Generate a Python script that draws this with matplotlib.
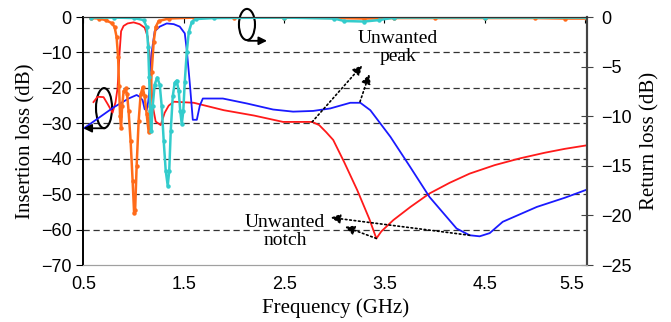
import matplotlib
matplotlib.use('Agg')
import matplotlib.pyplot as plt
import matplotlib.transforms as mtransforms
from matplotlib.patches import Ellipse

# insertion loss, filter 1 (red) and filter 2 (blue), left axis
freq_red = [0.6, 0.64, 0.7, 0.74, 0.79, 0.82, 0.84, 0.86, 0.875, 0.9, 0.94, 1.0, 1.06, 1.11,
            1.14, 1.16, 1.175, 1.19, 1.22, 1.27, 1.31, 1.35, 1.4, 1.6, 1.9, 2.2, 2.49, 2.78,
            2.85, 2.92, 2.99, 3.1, 3.23, 3.35, 3.42, 3.47, 3.59, 3.76, 3.95, 4.15, 4.35, 4.6,
            4.85, 5.1, 5.3, 5.52]
il_red = [-24.0, -22.5, -22.6, -24.5, -27.0, -24.0, -20.0, -10.0, -4.0, -2.5, -1.8, -1.5, -2.0, -3.0,
          -5.5, -11.0, -18.0, -25.0, -29.5, -30.5, -27.0, -25.0, -23.9, -24.2, -26.3, -27.8, -29.6, -29.6,
          -30.5, -32.5, -34.7, -41.0, -48.9, -57.0, -62.5, -60.5, -57.3, -53.6, -49.8, -46.8, -44.2, -41.8,
          -39.9, -38.3, -37.2, -36.2]

freq_blue = [0.5, 0.6, 0.8, 0.95, 1.03, 1.06, 1.09, 1.11, 1.13, 1.145, 1.16, 1.18, 1.21, 1.26, 1.33,
             1.4, 1.46, 1.51, 1.53, 1.56, 1.59, 1.63, 1.66, 1.69, 1.89, 2.13, 2.39, 2.59, 2.79, 2.96,
             3.16, 3.26, 3.36, 3.56, 3.75, 3.95, 4.22, 4.35, 4.45, 4.55, 4.68, 5.02, 5.3, 5.52]
il_blue = [-31.5, -29.5, -25.5, -23.0, -22.0, -22.5, -23.5, -26.0, -26.3, -24.0, -20.0, -10.0, -4.0, -2.7, -1.8,
           -2.0, -2.7, -4.6, -9.3, -18.7, -29.0, -29.0, -25.0, -23.0, -23.0, -24.4, -26.1, -26.7, -26.5, -25.8,
           -24.2, -24.2, -26.3, -33.8, -42.0, -50.8, -59.7, -61.6, -61.9, -61.0, -57.8, -53.6, -51.0, -48.7]

# return loss, filter 1 (orange) and filter 2 (cyan), right axis
freq_orange = [0.58, 0.65, 0.72, 0.78, 0.81, 0.83, 0.845, 0.855, 0.865, 0.875, 0.885, 0.9, 0.92, 0.935,
               0.95, 0.97, 0.99, 1.005, 1.015, 1.03, 1.05, 1.07, 1.09, 1.11, 1.13, 1.15, 1.165, 1.18,
               1.2, 1.22, 1.25, 1.35, 1.6, 2.0, 2.5, 3.0, 3.3, 3.6, 4.0, 4.5, 5.0, 5.3, 5.52]
rl_orange = [-0.1, -0.15, -0.3, -0.6, -1.0, -2.0, -4.0, -7.0, -10.0, -11.2, -9.0, -7.5, -7.2, -7.8,
             -9.5, -12.5, -16.5, -19.8, -19.5, -15.0, -10.5, -7.8, -7.1, -8.0, -9.8, -11.6, -9.0, -5.5,
             -2.5, -1.0, -0.4, -0.15, -0.05, -0.05, -0.05, -0.1, -0.15, -0.1, -0.1, -0.1, -0.1, -0.15, -0.15]

freq_cyan = [0.58, 0.8, 1.0, 1.1, 1.13, 1.145, 1.155, 1.165, 1.175, 1.19, 1.21, 1.235, 1.26, 1.28,
             1.3, 1.32, 1.34, 1.355, 1.37, 1.39, 1.41, 1.43, 1.45, 1.465, 1.48, 1.495, 1.51, 1.53,
             1.55, 1.58, 1.62, 1.8, 2.5, 3.0, 3.1, 3.3, 3.45, 3.6, 4.5, 5.52]
rl_cyan = [-0.05, -0.05, -0.1, -0.3, -1.0, -3.0, -6.0, -9.5, -11.5, -9.0, -6.8, -6.1, -6.8, -9.0,
           -12.5, -15.5, -17.0, -15.5, -11.5, -8.0, -6.6, -6.4, -7.5, -9.5, -10.8, -9.5, -6.5, -3.5,
           -1.5, -0.5, -0.2, -0.1, -0.05, -0.15, -0.4, -0.45, -0.3, -0.05, -0.05, -0.05]

il_ticks = [0, -10, -20, -30, -40, -50, -60, -70]
rl_ticks = [0, -5, -10, -15, -20, -25]
freq_ticks = [0.5, 1.5, 2.5, 3.5, 4.5, 5.5]

serif = 'Liberation Serif'
sans = 'Liberation Sans'

fig = plt.figure(figsize=(6.71, 3.22), dpi=100)
ax1 = fig.add_axes([0.1244, 0.177, 0.7504, 0.770])
ax2 = ax1.twinx()

for y in il_ticks[1:-1]:
    ax1.axhline(y, color='#333333', lw=0.9, ls=(0, (5, 3)), zorder=0)

ax1.plot(freq_red, il_red, color='#ff1a1a', lw=1.3)
ax1.plot(freq_blue, il_blue, color='#1a1aff', lw=1.3)
ax2.plot(freq_orange, rl_orange, color='#ff6b1a', lw=1.8, marker='o', ms=2.2)
ax2.plot(freq_cyan, rl_cyan, color='#33cccc', lw=1.8, marker='o', ms=2.2)

ax1.set_xlim(0.5, 5.52)
ax1.set_ylim(-70, 0)
ax2.set_ylim(-25, 0)
ax1.set_xticks(freq_ticks)
ax1.set_yticks(il_ticks)
ax2.set_yticks(rl_ticks)

ax1.tick_params(axis='x', bottom=False, top=True, labelbottom=True, direction='in',
                length=4, pad=8, labelsize=13)
ax1.tick_params(axis='y', direction='out', length=5, labelsize=13)
ax2.tick_params(axis='y', direction='inout', length=9, pad=6, labelsize=13, color='#444444')
for lab in ax1.get_xticklabels() + ax1.get_yticklabels() + ax2.get_yticklabels():
    lab.set_fontfamily(sans)

# last frequency label sits a little left of its tick, as in the original
last = ax1.get_xticklabels()[-1]
last.set_transform(last.get_transform() +
                   mtransforms.ScaledTranslation(-13 / 100, 0, fig.dpi_scale_trans))

for ax in (ax1, ax2):
    ax.spines['bottom'].set_color('#a0a0a0')
    ax.spines['top'].set_color('#333333')
    ax.spines['right'].set_color('#444444')
    ax.spines['left'].set_color('black')
    ax.spines['right'].set_linewidth(1.5)
    ax.spines['left'].set_linewidth(1.2)

ax1.set_xlabel('Frequency (GHz)', family=serif, fontsize=15, labelpad=4)
ax1.set_ylabel('Insertion loss (dB)', family=serif, fontsize=15, labelpad=4)
ax2.set_ylabel('Return loss (dB)', family=serif, fontsize=15, labelpad=6)

# axis marker ellipses
ax1.add_patch(Ellipse((0.705, -25.7), 0.16, 11.3, fill=False, ec='black', lw=1.5, clip_on=False))
ax1.annotate('', xy=(0.5, -31.4), xytext=(0.714, -31.4), annotation_clip=False,
             arrowprops=dict(arrowstyle='-|>', color='black', lw=1.3, mutation_scale=12,
                             shrinkA=0, shrinkB=0))
ax1.add_patch(Ellipse((2.13, -2.1), 0.16, 8.8, fill=False, ec='black', lw=1.5, clip_on=False))
ax1.annotate('', xy=(2.33, -6.7), xytext=(2.14, -6.7), annotation_clip=False,
             arrowprops=dict(arrowstyle='-|>', color='black', lw=1.3, mutation_scale=12,
                             shrinkA=0, shrinkB=0))

dotted = dict(arrowstyle='-|>', color='black', lw=1.2, ls=':', mutation_scale=14,
              shrinkA=0, shrinkB=0)
ax1.text(3.636, -8.5, 'Unwanted\npeak', family=serif, fontsize=14, ha='center', va='center',
         linespacing=1.1)
ax1.annotate('', xy=(3.28, -13.6), xytext=(2.78, -29.6), arrowprops=dotted)
ax1.annotate('', xy=(3.35, -16.1), xytext=(3.257, -23.9), arrowprops=dotted)

ax1.text(2.509, -60.5, 'Unwanted\nnotch', family=serif, fontsize=14, ha='center', va='center',
         linespacing=1.1)
ax1.annotate('', xy=(2.965, -56.6), xytext=(4.35, -61.6), arrowprops=dotted)
ax1.annotate('', xy=(3.107, -59.2), xytext=(3.42, -62.5), arrowprops=dotted)

fig.savefig('out.png', dpi=100)
